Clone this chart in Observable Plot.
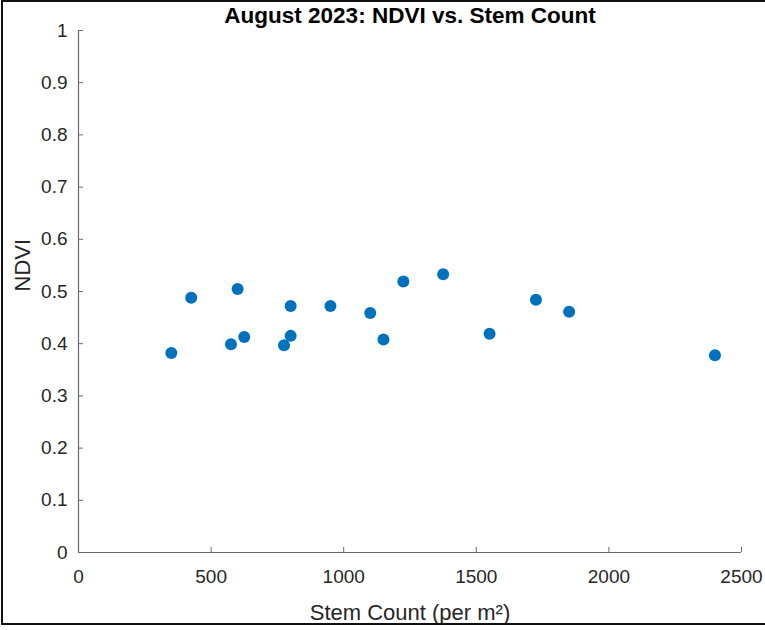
<!DOCTYPE html>
<html>
<head>
<meta charset="utf-8">
<script src="https://cdn.jsdelivr.net/npm/d3@7"></script>
<script src="https://cdn.jsdelivr.net/npm/@observablehq/plot@0.6"></script>
<style>
  html, body { margin: 0; padding: 0; background: #fff; }
  #wrap { position: relative; width: 765px; height: 630px; }
  #border { position: absolute; left: 1px; top: 0px; width: 764px; height: 625px;
            border-top: 2px solid #111; border-left: 2px solid #111; border-bottom: 2px solid #111;
            box-sizing: border-box; pointer-events: none; }
</style>
</head>
<body>
<div id="wrap"><div id="border"></div></div>
<script>
const titleText = "August 2023: NDVI vs. Stem Count";
const xLabel = "Stem Count (per m²)";
const yLabel = "NDVI";
const xTicks = [0, 500, 1000, 1500, 2000, 2500];
const yTicks = [0, 0.1, 0.2, 0.3, 0.4, 0.5, 0.6, 0.7, 0.8, 0.9, 1];
const stemCount = [350, 425, 600, 575, 625, 800, 800, 775, 950, 1100, 1150, 1225, 1375, 1550, 1725, 1850, 2400];
const ndvi =      [0.382, 0.488, 0.505, 0.399, 0.413, 0.472, 0.415, 0.397, 0.472, 0.459, 0.408, 0.519, 0.533, 0.419, 0.484, 0.461, 0.378];

const data = stemCount.map((x, i) => ({x, y: ndvi[i]}));
const font = "'Liberation Sans', Arial, Helvetica, sans-serif";
const textColor = "#262626";
const axisColor = "#6a6a6a";

const chart = Plot.plot({
  width: 765,
  height: 630,
  marginLeft: 78,
  marginRight: 24,
  marginTop: 30,
  marginBottom: 78,
  style: {fontFamily: font, background: "transparent", color: textColor},
  x: {domain: [0, 2500]},
  y: {domain: [0, 1]},
  marks: [
    Plot.ruleY([0], {stroke: axisColor, strokeWidth: 1.2}),
    Plot.ruleX([0], {stroke: axisColor, strokeWidth: 1.2}),
    Plot.axisX(xTicks, {tickSize: -5, tickPadding: 22, fontSize: 19, stroke: axisColor, fill: textColor, label: null, tickFormat: d => String(d)}),
    Plot.axisY(yTicks, {tickSize: -5, tickPadding: 16, fontSize: 19, stroke: axisColor, fill: textColor, label: null, tickFormat: d => String(d)}),
    Plot.dot(data, {x: "x", y: "y", r: 6, fill: "#0072BD", stroke: "none"}),
    Plot.text([titleText], {frameAnchor: "top", dy: -15, lineAnchor: "middle", fontSize: 22.5, fontWeight: "bold", fill: "#000"}),
    Plot.text([xLabel], {frameAnchor: "bottom", dy: 60, lineAnchor: "middle", fontSize: 22, fill: textColor}),
    Plot.text([yLabel], {frameAnchor: "left", dx: -56, rotate: -90, lineAnchor: "middle", fontSize: 22, fill: textColor})
  ]
});
document.getElementById("wrap").appendChild(chart);
</script>
</body>
</html>
